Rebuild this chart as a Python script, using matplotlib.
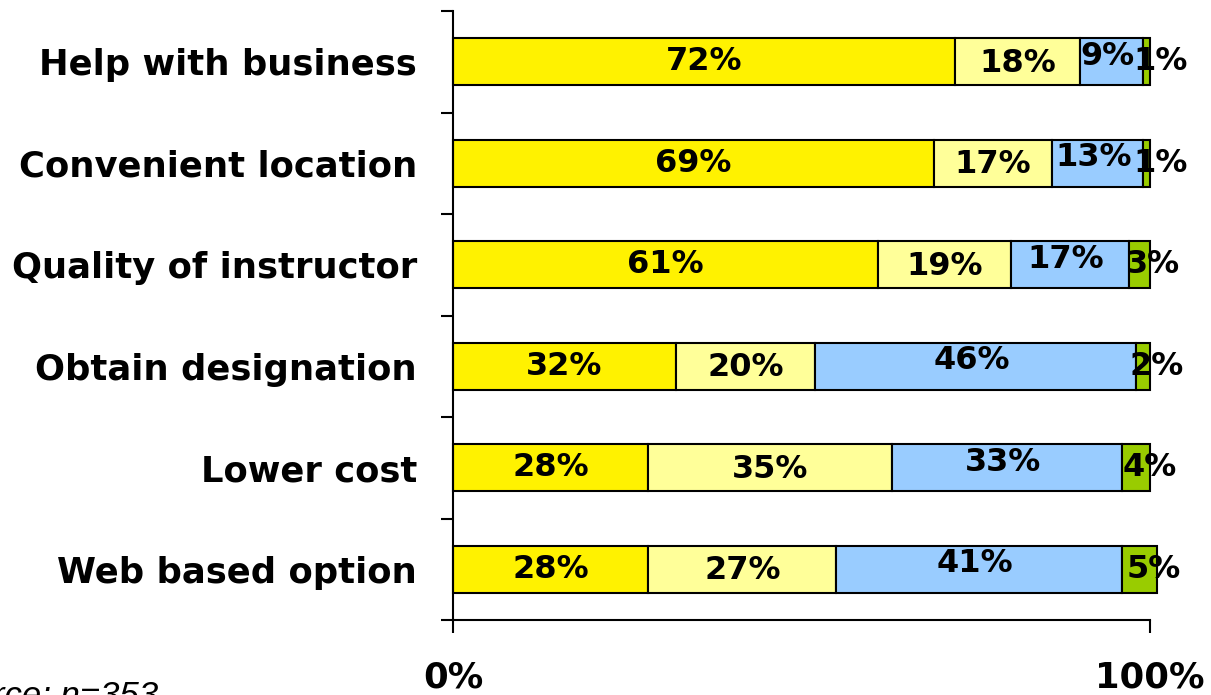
import numpy as np
import matplotlib.pyplot as plt

# Reasons for choosing a course, share of respondents (%)
reasons = ["Help with business", "Convenient location", "Quality of instructor",
           "Obtain designation", "Lower cost", "Web based option"]
very_important = [72, 69, 61, 32, 28, 28]
somewhat_important = [18, 17, 19, 20, 35, 27]
not_very_important = [9, 13, 17, 46, 33, 41]
not_important = [1, 1, 3, 2, 4, 5]

series = [very_important, somewhat_important, not_very_important, not_important]
colors = ["#FFF200", "#FFFF99", "#99CCFF", "#99CC00"]
# nudges for the value labels, in points
label_dx = [0, 0, -3, 10]
label_dy = [0, -1, 4, 0]

fig = plt.figure(figsize=(12.11, 6.95), dpi=100)
ax = fig.add_axes([453 / 1211, 1 - 620 / 695, 697 / 1211, 609 / 695])

y = np.arange(len(reasons))
left = np.zeros(len(reasons))
for vals, col, dx, dy in zip(series, colors, label_dx, label_dy):
    vals = np.array(vals, dtype=float)
    ax.barh(y, vals, left=left, height=0.46, color=col, edgecolor="black",
            linewidth=1.5, clip_on=False, zorder=2)
    for yi, l, v in zip(y, left, vals):
        ax.annotate(f"{int(v)}%", (l + v / 2, yi), xytext=(dx, dy),
                    textcoords="offset points", ha="center", va="center",
                    fontsize=23, fontweight="bold", zorder=5,
                    annotation_clip=False)
    left += vals

ax.set_xlim(0, 100)
ax.set_ylim(len(reasons) - 0.5, -0.5)

ax.set_yticks(y)
ax.set_yticklabels(reasons, fontsize=25.5, fontweight="bold")
ax.set_yticks(np.arange(len(reasons) + 1) - 0.5, minor=True)
ax.tick_params(axis="y", which="major", length=0, pad=26)
ax.tick_params(axis="y", which="minor", length=9, width=1.5, direction="out")

ax.set_xticks([0, 100])
ax.set_xticklabels(["0%", "100%"], fontsize=25.5, fontweight="bold")
ax.tick_params(axis="x", length=9, width=1.5, direction="out", pad=20)

for side in ["top", "right"]:
    ax.spines[side].set_visible(False)
for side in ["left", "bottom"]:
    ax.spines[side].set_linewidth(1.5)

fig.text(158 / 1211, 1 - 679 / 695, "Source; n=353", ha="right", va="top",
         fontsize=25, fontstyle="italic", family="Liberation Sans")

fig.savefig("out.png", dpi=100)
